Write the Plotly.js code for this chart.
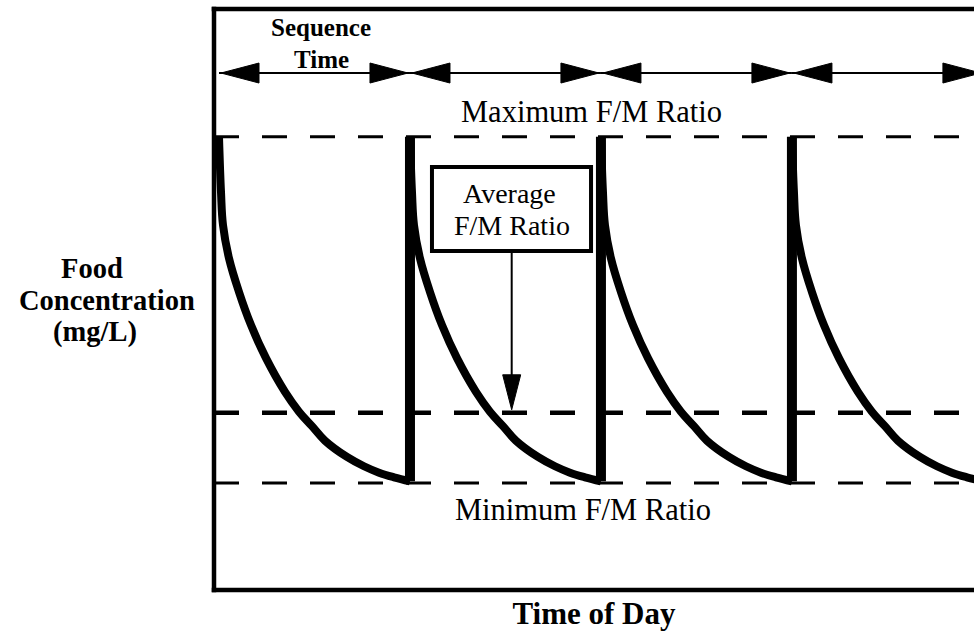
<!DOCTYPE html>
<html><head><meta charset="utf-8">
<script src="https://cdn.plot.ly/plotly-3.0.1.min.js"></script>
<style>html,body{margin:0;padding:0;background:#fff;overflow:hidden}</style>
</head><body><div id="chart" style="width:974px;height:637px"></div>
<script>
// ---- data (hours of the day, food concentration in arbitrary mg/L units) ----
const cycleStarts = [0, 6, 12, 18];          // start of each fill sequence (h)
const cycleLength = 6;                        // sequence time (h)
const decayHours = [0, 0.063, 0.126, 0.314, 0.628, 1.005, 1.477, 2.073, 2.513, 2.922, 3.33, 4.021, 4.555, 5.027, 5.498, 6.0];
const decayConc  = [78.0, 68.5, 62.8, 57.1, 51.3, 45.6, 39.9, 34.1, 30.7, 28.2, 25.7, 22.9, 21.3, 20.2, 19.4, 18.7];
const levelNames  = ['Maximum F/M Ratio', 'Average F/M Ratio', 'Minimum F/M Ratio'];
const levelValues = [78.0, 30.5, 18.4];
const xTitle = 'Time of Day';
const yTitleLines = ['Food', 'Concentration', '(mg/L)'];
const seqLines = ['Sequence', 'Time'];
const avgLines = ['Average', 'F/M Ratio'];

// ---- build traces ----
const cx = [], cy = [];
cycleStarts.forEach(s => {
  decayHours.forEach((h, i) => { cx.push(s + h); cy.push(decayConc[i]); });
  cx.push(null); cy.push(null);
});
const vx = [], vy = [];
cycleStarts.slice(1).forEach(s => {
  vx.push(s, s, null);
  vy.push(decayConc[decayConc.length - 1], decayConc[0], null);
});

const traces = [
  {x: cx, y: cy, type: 'scatter', mode: 'lines', line: {color: '#000', width: 8, shape: 'spline', smoothing: 1.1}, hoverinfo: 'skip', showlegend: false},
  {x: vx, y: vy, type: 'scatter', mode: 'lines', line: {color: '#000', width: 10}, hoverinfo: 'skip', showlegend: false}
];

const shapes = [];
// dashed reference levels
const dashW = [3, 4.5, 3];
levelValues.forEach((v, i) => {
  shapes.push({type: 'line', xref: 'paper', yref: 'y', x0: 0, x1: 1.05, y0: v, y1: v,
    line: {color: '#000', width: dashW[i], dash: '25px,23px'}, layer: 'below'});
});
// frame (left, top, bottom)
const fw = 4.5;
shapes.push({type: 'line', xref: 'paper', yref: 'paper', x0: 0, x1: 0, y0: -0.004, y1: 1.004, line: {color: '#000', width: fw}});
shapes.push({type: 'line', xref: 'paper', yref: 'paper', x0: -0.003, x1: 1.05, y0: 1, y1: 1, line: {color: '#000', width: fw}});
shapes.push({type: 'line', xref: 'paper', yref: 'paper', x0: -0.003, x1: 1.05, y0: 0, y1: 0, line: {color: '#000', width: fw}});

function head(xa, xref, ya, yref, path) {
  return {type: 'path', xref: xref, yref: yref, xsizemode: 'pixel', ysizemode: 'pixel',
    xanchor: xa, yanchor: ya, path: path, fillcolor: '#000', line: {color: '#000', width: 1}};
}
// sequence time arrows
const rowY = 0.8898;
cycleStarts.forEach(s => {
  const e = s + cycleLength;
  shapes.push({type: 'line', xref: 'x', yref: 'paper', x0: s, x1: e, y0: rowY, y1: rowY, line: {color: '#000', width: 2}});
  shapes.push(head(s, 'x', rowY, 'paper', 'M2,0 L40,10 L40,-10 Z'));
  shapes.push(head(e, 'x', rowY, 'paper', 'M-2,0 L-40,10 L-40,-10 Z'));
});
// average label box and arrow
shapes.push({type: 'rect', xref: 'paper', yref: 'paper', x0: 0.2868, x1: 0.4961, y0: 0.5835, y1: 0.7281,
  line: {color: '#000', width: 4}, fillcolor: '#fff'});
const avgArrowX = 0.3917;
shapes.push({type: 'line', xref: 'paper', yref: 'paper', x0: avgArrowX, x1: avgArrowX, y0: 0.5835, y1: 0.3528, line: {color: '#000', width: 2}});
shapes.push(head(avgArrowX, 'paper', levelValues[1], 'y', 'M0,3 L-9,38 L9,38 Z'));

const serif = 'Liberation Serif, Times New Roman, serif';
function ann(text, x, y, size, bold) {
  return {text: bold ? '<b>' + text + '</b>' : text, xref: 'paper', yref: 'paper', x: x, y: y,
    xanchor: 'center', yanchor: 'middle', showarrow: false,
    font: {family: serif, size: size, color: '#000'}};
}
const annotations = [
  ann(seqLines[0], 0.1408, 0.9673, 25, true),
  ann(seqLines[1], 0.1421, 0.9139, 25, true),
  ann(levelNames[0], 0.4967, 0.8227, 30.5, false),
  ann(levelNames[2], 0.4855, 0.1377, 30.5, false),
  ann(avgLines[0], 0.3882, 0.6833, 28, false),
  ann(avgLines[1], 0.3921, 0.6282, 28, false),
  ann(yTitleLines[0], -0.1605, 0.5525, 28.5, true),
  ann(yTitleLines[1], -0.1408, 0.4991, 28.5, true),
  ann(yTitleLines[2], -0.1566, 0.4441, 28.5, true)
];

const layout = {
  width: 974, height: 637,
  margin: {l: 214, r: 0, t: 9, b: 47},
  paper_bgcolor: '#fff', plot_bgcolor: '#fff',
  showlegend: false,
  xaxis: {range: [-0.157, 23.72], showgrid: false, zeroline: false, showline: false,
    showticklabels: false, ticks: '',
    title: {text: '<b>' + xTitle + '</b>', font: {family: serif, size: 31, color: '#000'}, standoff: 12}},
  yaxis: {range: [0, 100], showgrid: false, zeroline: false, showline: false, showticklabels: false, ticks: ''},
  shapes: shapes,
  annotations: annotations
};
Plotly.newPlot('chart', traces, layout, {staticPlot: true, displayModeBar: false});
</script></body></html>
